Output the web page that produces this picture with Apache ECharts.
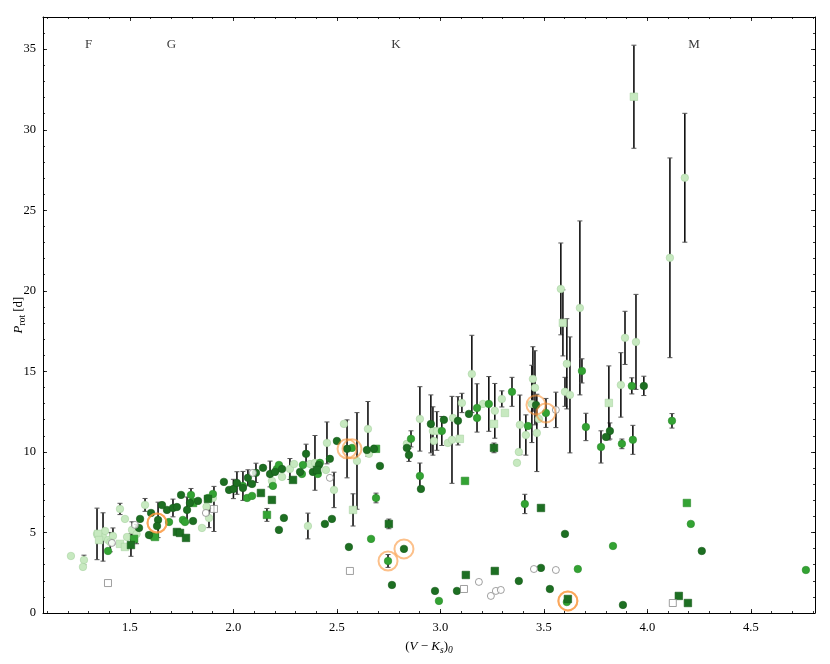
<!DOCTYPE html>
<html>
<head>
<meta charset="utf-8">
<script src="https://cdn.jsdelivr.net/npm/echarts@6/dist/echarts.min.js"></script>
<style>
  html, body { margin: 0; padding: 0; background: #fff; }
  #chart { width: 830px; height: 664px; }
</style>
</head>
<body>
<div id="chart"></div>
<script>
  // [x, y, error] ; error 0 = no bar
  var lightCircles = [
    [1.215,3.54,0],[1.278,3.29,0.3],[1.273,2.86,0],
    [1.341,4.91,1.6],[1.370,4.72,1.5],[1.380,5.09,0],[1.394,4.53,0],[1.418,4.78,0.5],[1.405,4.4,0.6],
    [1.452,6.46,0.35],[1.476,5.84,0],[1.486,4.72,0],[1.510,5.16,0.5],[1.573,6.71,0.4],[1.532,4.9,0.6],
    [1.848,5.28,0],[1.882,5.90,0.6],[1.901,7.14,0],[1.870,6.6,0],
    [2.186,8.20,0],[2.273,8.94,0.65],[2.293,9.25,0],[2.370,9.25,0],[2.394,9.32,1.7],[2.452,10.56,1.3],
    [2.447,8.88,0],[2.486,7.64,1.1],[2.360,5.40,0.8],[2.534,11.74,0],[2.597,9.44,3.0],[2.650,11.43,1.7],
    [2.655,9.88,0],[2.235,8.45,0],
    [2.838,10.50,0],[2.901,12.05,2.0],[2.964,11.30,1.5],[2.969,10.68,0],[2.983,11.30,1.2],[3.036,10.56,0],
    [3.056,10.75,2.7],[3.061,12.11,0],[3.104,13.04,0.6],[3.152,14.84,2.4],[3.206,12.98,0],[3.263,12.55,1.7],
    [3.297,13.29,0.5],[3.370,9.32,0],[3.379,10.0,0],[3.384,11.68,1.85],[3.413,11.05,1.25],[3.447,14.53,2.0],
    [3.457,13.98,2.3],[3.442,12.98,2.4],[3.466,11.18,2.4],[3.476,12.05,0],[3.602,13.73,0.9],[3.626,13.54,3.6],
    [3.611,15.47,2.8],[3.582,20.12,2.85],[3.674,18.94,5.4],[3.872,14.16,2.0],[3.892,17.08,1.65],
    [3.945,16.83,2.95],[4.109,22.05,6.2],[4.181,27.02,4.0]
  ];
  var mediumCircles = [
    [1.394,3.85,0],[1.689,5.65,0],[1.756,5.78,0],[1.766,5.65,0],[1.795,7.33,0.4],[1.805,6.89,0],
    [1.877,7.14,0],[1.901,7.39,0],[1.605,4.8,0],
    [2.046,7.89,0.9],[2.066,7.14,0],[2.090,7.27,0],[2.191,7.89,0],[2.210,8.94,0],[2.220,9.19,0],
    [2.331,8.63,0],[2.336,9.19,0],[2.408,8.63,0],[2.418,9.32,0],[2.573,10.25,0],
    [2.665,4.60,0],[2.689,7.14,0.3],[2.747,3.23,0.4],[2.993,0.75,0],
    [2.858,10.81,0.5],[2.901,8.51,0.8],[3.007,11.30,0.9],[3.177,12.73,1.5],[3.177,12.11,0],[3.234,12.98,1.7],
    [3.346,13.73,0.9],[3.423,11.61,0],[3.408,6.77,0.6],[3.510,12.42,0.9],
    [3.684,15.03,0.75],[3.703,11.55,0.85],[3.776,10.31,1.0],[3.877,10.50,0.3],[3.930,10.75,0.9],
    [3.925,14.10,0.5],[4.119,11.93,0.45],
    [3.834,4.16,0],[3.664,2.73,0],[3.611,0.68,0],[4.210,5.53,0],[4.766,2.67,0]
  ];
  var darkCircles = [
    [1.549,5.84,0],[1.544,5.28,0],[1.602,6.21,0],[1.592,4.84,0],[1.636,5.78,1.1],[1.631,5.40,0],
    [1.679,6.40,0],[1.708,6.52,0.55],[1.727,6.58,0],[1.747,7.33,0],[1.776,6.40,0.8],[1.790,6.83,0],
    [1.805,5.71,0],[1.829,6.96,0],[1.655,6.7,0],
    [1.954,8.14,0],[1.979,7.64,0],[2.0,7.70,0.6],[2.017,8.07,0.7],[2.046,7.76,0],[2.070,8.39,0.5],
    [2.090,8.01,0],[2.109,8.70,0.6],[2.143,9.01,0],[2.177,8.63,0.8],[2.201,8.76,0],[2.235,8.94,0],
    [2.322,8.76,0],[2.351,9.88,0.6],[2.384,8.76,0],[2.413,9.19,0],[2.466,9.57,0],[2.500,10.68,0],
    [2.549,10.19,1.8],
    [2.442,5.53,0],[2.476,5.84,0],[2.244,5.90,0],[2.220,5.16,0],[2.558,4.10,0],
    [2.645,10.12,0],[2.679,10.19,0],[2.708,9.13,0],[2.838,10.25,0],[2.848,9.81,0.4],[2.906,7.70,0],
    [2.954,11.74,1.8],[3.017,11.99,0],[3.085,11.93,1.5],[3.138,12.36,0],[3.462,12.92,0],
    [2.766,1.74,0],[2.974,1.37,0],[3.080,1.37,0],[3.379,1.99,0],[3.486,2.80,0],[3.529,1.49,0],[2.824,3.98,0],
    [3.602,4.91,0],[3.882,0.50,0],[4.263,3.85,0],
    [3.983,14.10,0.6],[3.819,11.30,0.5],[3.800,10.93,0]
  ];
  var darkSquares = [
    [1.505,4.22,0.7],[1.727,5.03,0],[1.742,4.97,0],[1.771,4.66,0],
    [1.877,7.08,0],[2.133,7.45,0],[2.186,7.02,0],[2.288,8.26,0],[2.404,8.88,0],
    [2.751,5.53,0.3],[3.259,10.25,0.3],[3.486,6.52,0],
    [3.123,2.36,0],[3.263,2.61,0],[3.616,0.87,0],[4.152,1.06,0],[4.196,0.62,0]
  ];
  var mediumSquares = [
    [1.520,4.60,0],[1.621,4.72,0],[1.805,6.83,0],[2.162,6.09,0.4],[3.119,8.20,0],[4.191,6.83,0],[2.689,10.19,0]
  ];
  var lightSquares = [
    [1.346,4.91,0],[1.351,4.53,0],[1.452,4.29,0],[1.476,4.10,0],[2.578,6.40,1.0],[3.094,10.81,0],
    [3.259,11.74,0],[3.312,12.42,0],[3.592,18.01,2.05],[3.814,13.04,2.3],[3.935,32.05,3.2]
  ];
  var openCircles = [
    [1.413,4.35,0],[1.524,5.47,0],[1.867,6.21,0],[2.094,8.70,0],[2.466,8.39,0],[3.186,1.93,0],
    [3.244,1.06,0],[3.268,1.37,0],[3.292,1.43,0],[3.452,2.73,0],[3.558,2.67,0],[3.558,12.61,1.1]
  ];
  var openSquares = [
    [1.394,1.86,0],[1.906,6.46,1.4],[2.563,2.61,0],[3.114,1.49,0],[4.123,0.62,0]
  ];
  var rings = [
    [1.631,5.59],[1.631,5.59],[2.549,10.19],[2.573,10.19],[2.747,3.23],[2.824,3.98],
    [3.462,12.92],[3.510,12.42],[3.616,0.75],[3.616,0.75]
  ];
  var spectralTypes = ['F', 'G', 'K', 'M'];
  var spectralX = [1.3, 1.7, 2.785, 4.225];
  var spectralY = 35.3;

  var xTicks = [1.5, 2.0, 2.5, 3.0, 3.5, 4.0, 4.5];
  var yTicks = [0, 5, 10, 15, 20, 25, 30, 35];
  var X_MIN = 1.08, X_MAX = 4.81, Y_MIN = 0, Y_MAX = 37;

  var xMinor = [];
  for (var i = 11; i <= 48; i++) xMinor.push(i / 10);
  var yMinor = [];
  for (var j = 0; j <= 37; j++) yMinor.push(j);

  var FONT = 'Liberation Serif';
  var DARK = '#1d6f22', MED = '#33a333', LIGHT = '#c7e9c0';

  var errData = [].concat(lightCircles, mediumCircles, darkCircles, darkSquares,
    mediumSquares, lightSquares, openCircles, openSquares).filter(function (d) { return d[2] > 0; });

  function renderErr(params, api) {
    var x = api.value(0), y = api.value(1), e = api.value(2);
    var top = api.coord([x, y + e]);
    var bot = api.coord([x, y - e]);
    var w = 2.5;
    return {
      type: 'group',
      children: [
        { type: 'line', shape: { x1: top[0], y1: top[1], x2: bot[0], y2: bot[1] },
          style: { stroke: '#111', lineWidth: 1.6 } },
        { type: 'line', shape: { x1: top[0] - w, y1: top[1], x2: top[0] + w, y2: top[1] },
          style: { stroke: '#555', lineWidth: 1 } },
        { type: 'line', shape: { x1: bot[0] - w, y1: bot[1], x2: bot[0] + w, y2: bot[1] },
          style: { stroke: '#555', lineWidth: 1 } }
      ]
    };
  }

  function pts(arr) { return arr.map(function (d) { return [d[0], d[1]]; }); }

  function markers(arr, symbol, fill, border, size) {
    return {
      type: 'scatter', data: pts(arr), symbol: symbol, symbolSize: size || 7.5,
      itemStyle: { color: fill, borderColor: border, borderWidth: 0.6, opacity: 1 },
      silent: true, z: 3
    };
  }

  function xAxisDef(pos, values, len, labels, line) {
    return {
      type: 'value', position: pos, min: X_MIN, max: X_MAX,
      axisLine: { show: line, onZero: false, lineStyle: { color: '#000', width: 1 } },
      axisTick: { show: true, inside: true, length: len, customValues: values,
        lineStyle: { color: '#000', width: 0.8 } },
      axisLabel: { show: labels, customValues: values, color: '#000', fontFamily: FONT, fontSize: 12.5,
        margin: 8, formatter: function (v) { return v.toFixed(1); } },
      splitLine: { show: false }
    };
  }
  function yAxisDef(pos, values, len, labels, line) {
    return {
      type: 'value', position: pos, min: Y_MIN, max: Y_MAX,
      axisLine: { show: line, onZero: false, lineStyle: { color: '#000', width: 1 } },
      axisTick: { show: true, inside: true, length: len, customValues: values,
        lineStyle: { color: '#000', width: 0.8 } },
      axisLabel: { show: labels, customValues: values, color: '#000', fontFamily: FONT, fontSize: 12.5,
        margin: 7 },
      splitLine: { show: false }
    };
  }

  var xMain = xAxisDef('bottom', xTicks, 4, true, true);
  xMain.name = '{n|(}{i|V}{n| − }{i|K}{s|s}{n|)}{s|0}';
  xMain.nameLocation = 'middle';
  xMain.nameGap = 26;
  xMain.nameMoveOverlap = false;
  xMain.nameTextStyle = {
    rich: {
      n: { fontFamily: FONT, fontSize: 13, color: '#000', lineHeight: 16, verticalAlign: 'middle' },
      i: { fontFamily: FONT, fontSize: 13, fontStyle: 'italic', color: '#000', lineHeight: 16, verticalAlign: 'middle' },
      s: { fontFamily: FONT, fontSize: 9.5, fontStyle: 'italic', color: '#000', lineHeight: 16, verticalAlign: 'bottom', padding: [6, 0, 0, 0] }
    }
  };

  var yMain = yAxisDef('left', yTicks, 4, true, true);
  yMain.name = '{i|P}{s|rot}{n| [d]}';
  yMain.nameLocation = 'middle';
  yMain.nameGap = 16;
  yMain.nameRotate = 90;
  yMain.nameMoveOverlap = false;
  yMain.nameTextStyle = {
    rich: {
      n: { fontFamily: FONT, fontSize: 13, color: '#000', lineHeight: 16, verticalAlign: 'middle' },
      i: { fontFamily: FONT, fontSize: 13, fontStyle: 'italic', color: '#000', lineHeight: 16, verticalAlign: 'middle' },
      s: { fontFamily: FONT, fontSize: 9.5, color: '#000', lineHeight: 16, verticalAlign: 'bottom', padding: [6, 0, 0, 0] }
    }
  };

  var chart = echarts.init(document.getElementById('chart'));
  var option = {
    animation: false,
    backgroundColor: '#fff',
    grid: { left: 43, right: 15, top: 17, bottom: 51, containLabel: false, outerBoundsMode: 'none' },
    xAxis: [
      xMain,
      xAxisDef('bottom', xMinor, 2, false, false),
      xAxisDef('top', xTicks, 4, false, true),
      xAxisDef('top', xMinor, 2, false, false)
    ],
    yAxis: [
      yMain,
      yAxisDef('left', yMinor, 2, false, false),
      yAxisDef('right', yTicks, 4, false, true),
      yAxisDef('right', yMinor, 2, false, false)
    ],
    series: [
      {
        type: 'custom', renderItem: renderErr, data: errData,
        encode: { x: 0, y: 1 }, clip: true, silent: true, z: 2
      },
      markers(lightCircles, 'circle', LIGHT, '#a9d3a2'),
      markers(lightSquares, 'rect', LIGHT, '#a9d3a2'),
      markers(mediumCircles, 'circle', MED, '#2a8a2a'),
      markers(mediumSquares, 'rect', MED, '#2a8a2a'),
      markers(darkCircles, 'circle', DARK, '#165a1a'),
      markers(darkSquares, 'rect', DARK, '#165a1a'),
      {
        type: 'scatter', data: pts(openCircles), symbol: 'circle', symbolSize: 7,
        itemStyle: { color: '#fff', borderColor: '#888', borderWidth: 1 }, silent: true, z: 4
      },
      {
        type: 'scatter', data: pts(openSquares), symbol: 'rect', symbolSize: 7,
        itemStyle: { color: '#fff', borderColor: '#888', borderWidth: 1 }, silent: true, z: 4
      },
      {
        type: 'scatter', data: rings, symbol: 'circle', symbolSize: 19,
        itemStyle: { color: 'transparent', borderColor: 'rgba(250,150,60,0.75)', borderWidth: 2 },
        silent: true, z: 5
      },
      {
        type: 'scatter', symbolSize: 0, silent: true, z: 6,
        data: spectralTypes.map(function (t, k) { return { value: [spectralX[k], spectralY], name: t }; }),
        label: { show: true, position: 'inside', formatter: '{b}', color: '#000', fontFamily: FONT, fontSize: 13 }
      }
    ]
  };
  chart.setOption(option);
</script>
</body>
</html>
